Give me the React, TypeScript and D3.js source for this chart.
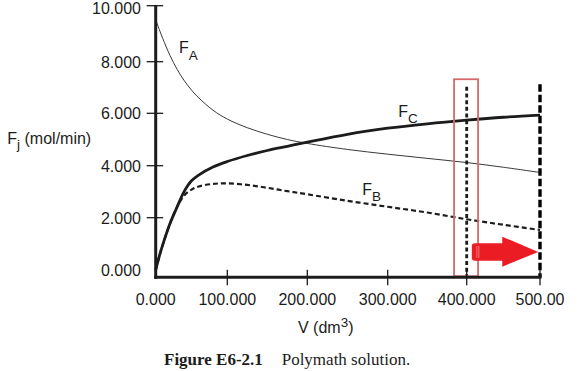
import * as d3 from "d3";
import { useEffect, useRef } from "react";

// Polymath solution, membrane reactor (Fogler E6-2.1)
const volumes = [0, 5, 10, 20, 30, 40, 50, 60, 80, 100, 125, 150, 175, 200, 250, 300, 350, 400, 450, 500];
const fA = [9.5, 9.15, 8.82, 8.22, 7.7, 7.26, 6.9, 6.6, 6.12, 5.78, 5.45, 5.2, 5.0, 4.85, 4.62, 4.44, 4.28, 4.12, 3.94, 3.74];
const fB = [0, 0.52, 0.98, 1.78, 2.42, 2.86, 3.08, 3.2, 3.3, 3.32, 3.26, 3.15, 3.02, 2.9, 2.65, 2.42, 2.2, 1.94, 1.73, 1.53];
const fC = [0, 0.52, 0.98, 1.78, 2.42, 3.02, 3.42, 3.64, 3.95, 4.16, 4.39, 4.58, 4.74, 4.9, 5.2, 5.43, 5.6, 5.74, 5.85, 5.93];

const xTicks = [0, 100, 200, 300, 400, 500];
const xTickLabels = ["0.000", "100.000", "200.000", "300.000", "400.000", "500.00"];
const yTicks = [0, 2, 4, 6, 8, 10];
const yTickLabels = ["0.000", "2.000", "4.000", "6.000", "8.000", "10.000"];

// vertical marker lines (V, top value)
const markerV = [400, 500];
const markerTop = [7.03, 7.13];

// highlight box and arrow (in data units)
const boxV = [384, 415.5];
const boxF = [-0.24, 7.32];
const arrowV = [407, 497.6];
const arrowF = 0.69;

// the scanned axis is not quite even, so the scales are piecewise
const xRange = [155.7, 227.3, 307.3, 387.7, 466.7, 540];
const yRange = [270, 217.7, 165.7, 113.3, 61.7, 5.7];

const W = 579;
const H = 371;
const ink = "#1c1c1c";
const sans = "'Liberation Sans', Arial, Helvetica, sans-serif";
const serif = "'Liberation Serif', 'Times New Roman', serif";
const fs = 16;

const App = () => {
  const ref = useRef<SVGSVGElement>(null);

  useEffect(() => {
    const svg = d3.select(ref.current);
    svg.selectAll("*").remove();

    const x = d3.scaleLinear().domain(xTicks).range(xRange);
    const y = d3.scaleLinear().domain(yTicks).range(yRange);
    const axisX = x(0);
    const axisY = 277.3;

    const line = d3
      .line<number>()
      .x((_, i) => x(volumes[i]))
      .y((d) => y(d))
      .curve(d3.curveCatmullRom.alpha(0.5));

    // curves
    svg.append("path").attr("d", line(fA)).attr("fill", "none").attr("stroke", "#222").attr("stroke-width", 0.9);
    svg
      .append("path")
      .attr("d", line(fB))
      .attr("fill", "none")
      .attr("stroke", ink)
      .attr("stroke-width", 2.2)
      .attr("stroke-dasharray", "5,3");
    svg.append("path").attr("d", line(fC)).attr("fill", "none").attr("stroke", ink).attr("stroke-width", 2.8);

    // marker lines
    svg
      .append("line")
      .attr("x1", x(markerV[0]))
      .attr("x2", x(markerV[0]))
      .attr("y1", y(markerTop[0]))
      .attr("y2", axisY)
      .attr("stroke", ink)
      .attr("stroke-width", 2.8)
      .attr("stroke-dasharray", "4,2.7");
    svg
      .append("line")
      .attr("x1", x(markerV[1]))
      .attr("x2", x(markerV[1]))
      .attr("y1", y(markerTop[1]))
      .attr("y2", axisY)
      .attr("stroke", "#000")
      .attr("stroke-width", 3.4)
      .attr("stroke-dasharray", "7.5,3");

    // red box
    svg
      .append("rect")
      .attr("x", x(boxV[0]))
      .attr("y", y(boxF[1]))
      .attr("width", x(boxV[1]) - x(boxV[0]))
      .attr("height", y(boxF[0]) - y(boxF[1]))
      .attr("fill", "none")
      .attr("stroke", "#d66a6a")
      .attr("stroke-width", 1.8);

    // red arrow
    const ax0 = x(arrowV[0]);
    const ax1 = x(arrowV[1]);
    const ay = y(arrowF);
    const headX = ax1 - 36;
    svg
      .append("path")
      .attr(
        "d",
        `M${ax0 + 3},${ay - 8.7} L${headX},${ay - 8.7} L${headX},${ay - 15.3} L${ax1},${ay} L${headX},${ay + 14.7} L${headX},${ay + 8.7} L${ax0 + 3},${ay + 8.7} Q${ax0},${ay + 8.7} ${ax0},${ay + 5.7} L${ax0},${ay - 5.7} Q${ax0},${ay - 8.7} ${ax0 + 3},${ay - 8.7} Z`
      )
      .attr("fill", "#ec1c24");
    [0, 2].forEach((o) => {
      svg
        .append("line")
        .attr("x1", ax0 + 5 + o)
        .attr("x2", ax0 + 5 + o)
        .attr("y1", ay - 6)
        .attr("y2", ay + 6)
        .attr("stroke", "#f4a0a0")
        .attr("stroke-width", 0.7);
    });

    // axes
    svg
      .append("line")
      .attr("x1", axisX)
      .attr("x2", axisX)
      .attr("y1", 5)
      .attr("y2", axisY + 1.5)
      .attr("stroke", ink)
      .attr("stroke-width", 3);
    svg
      .append("line")
      .attr("x1", axisX - 1.5)
      .attr("x2", x(500) + 1.5)
      .attr("y1", axisY)
      .attr("y2", axisY)
      .attr("stroke", ink)
      .attr("stroke-width", 3);

    const yt = svg.append("g");
    yTicks.forEach((t, i) => {
      if (t > 0) {
        yt.append("line")
          .attr("x1", axisX - 9)
          .attr("x2", axisX + 7.5)
          .attr("y1", y(t))
          .attr("y2", y(t))
          .attr("stroke", ink)
          .attr("stroke-width", 1.3);
      }
      yt.append("text")
        .attr("x", 141)
        .attr("y", Math.max(y(t) + 5.8, 14))
        .attr("text-anchor", "end")
        .attr("font-family", sans)
        .attr("font-size", fs)
        .attr("fill", ink)
        .text(yTickLabels[i]);
    });

    const xt = svg.append("g");
    xTicks.forEach((t, i) => {
      if (t > 0) {
        xt.append("line")
          .attr("x1", x(t))
          .attr("x2", x(t))
          .attr("y1", axisY - 7.5)
          .attr("y2", axisY + 8)
          .attr("stroke", ink)
          .attr("stroke-width", 1.3);
      }
      xt.append("text")
        .attr("x", x(t))
        .attr("y", 305)
        .attr("text-anchor", "middle")
        .attr("font-family", sans)
        .attr("font-size", fs)
        .attr("fill", ink)
        .text(xTickLabels[i]);
    });

    // labels with subscripts / superscripts
    const label = (px: number, py: number, main: string, sub: string, shift: number, rest = "") => {
      const t = svg
        .append("text")
        .attr("x", px)
        .attr("y", py)
        .attr("font-family", sans)
        .attr("font-size", fs)
        .attr("fill", ink);
      t.append("tspan").text(main);
      t.append("tspan").attr("font-size", 13.5).attr("dy", shift).text(sub);
      if (rest) t.append("tspan").attr("dy", -shift).text(rest);
    };
    label(179, 53.3, "F", "A", 6.5);
    label(398.3, 116.7, "F", "C", 6);
    label(362.3, 195, "F", "B", 5.7);
    label(7.3, 144, "F", "j", 4.5, " (mol/min)");
    label(298, 333.3, "V (dm", "3", -6.5, ")");

    // caption
    svg
      .append("text")
      .attr("x", 164)
      .attr("y", 365)
      .attr("font-family", serif)
      .attr("font-weight", "bold")
      .attr("font-size", 17)
      .attr("fill", ink)
      .text("Figure E6-2.1");
    svg
      .append("text")
      .attr("x", 281.7)
      .attr("y", 365)
      .attr("font-family", serif)
      .attr("font-size", 17)
      .attr("fill", ink)
      .text("Polymath solution.");
  }, []);

  return <svg ref={ref} width={W} height={H} style={{ position: "absolute", left: 0, top: 0, background: "#fff" }} />;
};

export default App;
